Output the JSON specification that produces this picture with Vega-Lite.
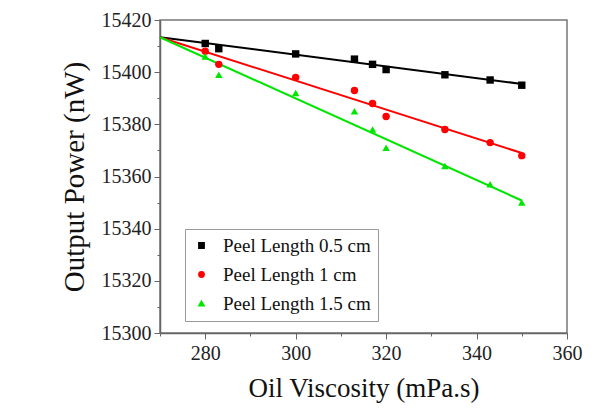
{
  "$schema": "https://vega.github.io/schema/vega-lite/v6.json",
  "width": 407,
  "height": 313,
  "autosize": "none",
  "padding": {"left": 160, "top": 20, "right": 31, "bottom": 79},
  "background": "white",
  "config": {
    "font": "Liberation Serif",
    "axis": {"labelFont": "serif", "titleFont": "Liberation Serif"},
    "legend": {"labelFont": "serif"},
    "view": {"stroke": "#777777", "strokeWidth": 1.5}
  },
  "datasets": {
    "pts": [
      {"series": "Peel Length 0.5 cm", "visc": 280, "power": 15411},
      {"series": "Peel Length 0.5 cm", "visc": 283, "power": 15409},
      {"series": "Peel Length 0.5 cm", "visc": 300, "power": 15407},
      {"series": "Peel Length 0.5 cm", "visc": 313, "power": 15405},
      {"series": "Peel Length 0.5 cm", "visc": 317, "power": 15403},
      {"series": "Peel Length 0.5 cm", "visc": 320, "power": 15401},
      {"series": "Peel Length 0.5 cm", "visc": 333, "power": 15399},
      {"series": "Peel Length 0.5 cm", "visc": 343, "power": 15397},
      {"series": "Peel Length 0.5 cm", "visc": 350, "power": 15395},
      {"series": "Peel Length 1 cm", "visc": 280, "power": 15408},
      {"series": "Peel Length 1 cm", "visc": 283, "power": 15403},
      {"series": "Peel Length 1 cm", "visc": 300, "power": 15398},
      {"series": "Peel Length 1 cm", "visc": 313, "power": 15393},
      {"series": "Peel Length 1 cm", "visc": 317, "power": 15388},
      {"series": "Peel Length 1 cm", "visc": 320, "power": 15383},
      {"series": "Peel Length 1 cm", "visc": 333, "power": 15378},
      {"series": "Peel Length 1 cm", "visc": 343, "power": 15373},
      {"series": "Peel Length 1 cm", "visc": 350, "power": 15368},
      {"series": "Peel Length 1.5 cm", "visc": 280, "power": 15406},
      {"series": "Peel Length 1.5 cm", "visc": 283, "power": 15399},
      {"series": "Peel Length 1.5 cm", "visc": 300, "power": 15392},
      {"series": "Peel Length 1.5 cm", "visc": 313, "power": 15385},
      {"series": "Peel Length 1.5 cm", "visc": 317, "power": 15378},
      {"series": "Peel Length 1.5 cm", "visc": 320, "power": 15371},
      {"series": "Peel Length 1.5 cm", "visc": 333, "power": 15364},
      {"series": "Peel Length 1.5 cm", "visc": 343, "power": 15357},
      {"series": "Peel Length 1.5 cm", "visc": 350, "power": 15350}
    ],
    "fits": [
      {"series": "Peel Length 0.5 cm", "visc": 270, "power": 15413.4},
      {"series": "Peel Length 0.5 cm", "visc": 350, "power": 15395.5},
      {"series": "Peel Length 1 cm", "visc": 270, "power": 15413.4},
      {"series": "Peel Length 1 cm", "visc": 350, "power": 15369},
      {"series": "Peel Length 1.5 cm", "visc": 270, "power": 15413.4},
      {"series": "Peel Length 1.5 cm", "visc": 350, "power": 15350.8}
    ]
  },
  "encoding": {
    "x": {
      "field": "visc", "type": "quantitative",
      "scale": {"domain": [270, 360], "nice": false, "zero": false},
      "axis": {
        "title": "Oil Viscosity (mPa.s)",
        "titleFontSize": 27, "titleFontWeight": "normal", "titleColor": "#111111", "titlePadding": 12,
        "values": [270, 280, 290, 300, 310, 320, 330, 340, 350, 360],
        "labelExpr": "datum.value % 20 == 0 ? datum.label : ''",
        "labelFont": "serif",
        "labelFontSize": 20, "labelColor": "#222222", "labelPadding": 4, "labelFlush": false,
        "tickSize": {"condition": {"test": "datum.value % 20 == 0", "value": 6}, "value": 3},
        "tickColor": "#666666", "domainColor": "#666666", "domainWidth": 1.5,
        "grid": false
      }
    },
    "y": {
      "field": "power", "type": "quantitative",
      "scale": {"domain": [15300, 15420], "nice": false, "zero": false},
      "axis": {
        "title": "Output Power (nW)",
        "titleFontSize": 29, "titleFontWeight": "normal", "titleColor": "#111111", "titlePadding": 12,
        "values": [15300, 15310, 15320, 15330, 15340, 15350, 15360, 15370, 15380, 15390, 15400, 15410, 15420],
        "labelExpr": "datum.value % 20 == 0 ? datum.label : ''",
        "format": "d",
        "labelFont": "serif",
        "labelFontSize": 20, "labelColor": "#222222", "labelPadding": 3, "labelFlush": false,
        "tickSize": {"condition": {"test": "datum.value % 20 == 0", "value": 6}, "value": 3},
        "tickColor": "#666666", "domainColor": "#666666", "domainWidth": 1.5,
        "grid": false
      }
    },
    "color": {
      "field": "series", "type": "nominal",
      "scale": {"domain": ["Peel Length 0.5 cm", "Peel Length 1 cm", "Peel Length 1.5 cm"], "range": ["#000000", "#ff0000", "#00e600"]},
      "legend": {
        "title": null,
        "orient": "none", "legendX": 25, "legendY": 209,
        "labelFont": "serif",
        "labelFontSize": 19, "labelColor": "#111111",
        "symbolSize": 28, "rowPadding": 9, "labelOffset": 12,
        "strokeColor": "#999999", "fillColor": "white", "padding": 7,
        "labelLimit": 400
      }
    }
  },
  "layer": [
    {
      "data": {"name": "fits"},
      "mark": {"type": "line", "strokeWidth": 2}
    },
    {
      "data": {"name": "pts"},
      "mark": {"type": "point", "filled": true, "size": 55, "opacity": 1},
      "encoding": {
        "shape": {
          "field": "series", "type": "nominal",
          "scale": {
            "domain": ["Peel Length 0.5 cm", "Peel Length 1 cm", "Peel Length 1.5 cm"],
            "range": ["square", "circle", "triangle-up"]
          },
          "legend": {
            "title": null,
            "orient": "none", "legendX": 25, "legendY": 209,
            "labelFont": "serif",
            "labelFontSize": 19, "labelColor": "#111111",
            "symbolSize": 28, "rowPadding": 9, "labelOffset": 12,
            "strokeColor": "#999999", "fillColor": "white", "padding": 7,
            "labelLimit": 400
          }
        }
      }
    }
  ]
}
